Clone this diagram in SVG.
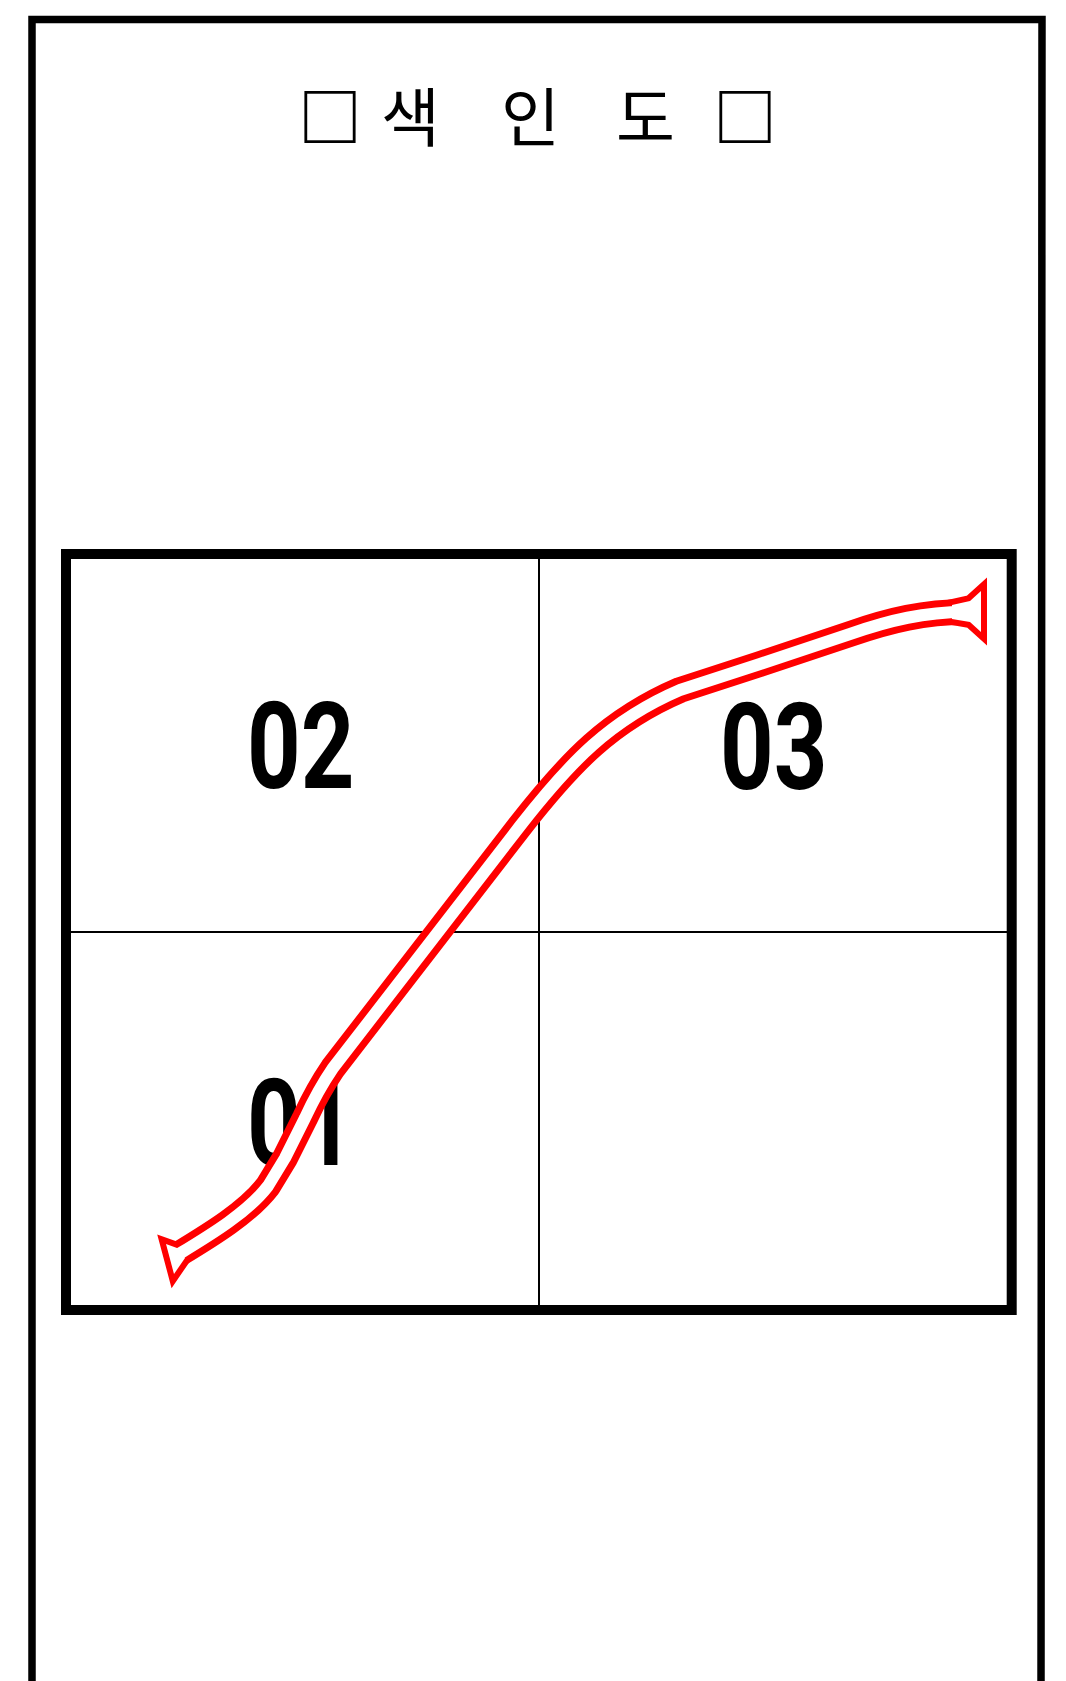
<svg xmlns="http://www.w3.org/2000/svg" width="1066" height="1681" viewBox="0 0 1066 1681">
<style>
.frame{fill:none;stroke:#000;stroke-width:7.5;stroke-linejoin:miter}
.box{fill:none;stroke:#000;stroke-width:10}
.grid{stroke:#000;stroke-width:2}
.title{font-family:"Noto Sans CJK KR","Noto Sans",sans-serif;font-size:64px;fill:#000}
.sq{font-weight:bold}
.num{font-family:Roboto,"Liberation Sans",sans-serif;font-weight:bold;font-size:120px;fill:#000}
.roadOuter{fill:none;stroke:#ff0000;stroke-width:26;stroke-linejoin:round}
.roadInner{fill:none;stroke:#fff;stroke-width:12;stroke-linejoin:round}
.capOuter{fill:#ff0000;stroke:#ff0000;stroke-width:12;stroke-linejoin:miter}
.capInner{fill:#fff;stroke:none}
</style>
<rect width="1066" height="1681" fill="#fff"/>
<g id="frame">
<path class="frame" d="M32,1690 V19.5 H1042 L1041,1690"/>
</g>
<g id="title">
<text class="title" y="141"><tspan class="sq" x="298">□</tspan><tspan x="381">색</tspan> <tspan x="501">인</tspan> <tspan x="616">도</tspan><tspan class="sq" x="713">□</tspan></text>
</g>
<g id="map">
<rect class="box" x="66" y="554" width="945.7" height="756"/>
<line class="grid" x1="539" y1="554" x2="539" y2="1310"/>
<line class="grid" x1="66" y1="932" x2="1011.7" y2="932"/>
</g>
<g id="zone-02"><text class="num" transform="translate(247,788) scale(0.78,1)">02</text></g>
<g id="zone-03"><text class="num" transform="translate(720,789) scale(0.78,1)">03</text></g>
<g id="zone-01"><text class="num" transform="translate(247,1165) scale(0.78,1)">01</text></g>
<g id="connectors">
<defs>
<path id="road" d="M179,1254 C212,1234 248,1212 268,1186 L285,1158 L305,1118 Q318,1090 333,1068 L520,826 C570,762 610,720 680,690 L760,664 L850,634 C890,620 925,612 965,612"/>
<polygon id="capL" points="177,1248 166,1244 174,1274 185,1258"/>
<polygon id="capR" points="952,605 970,601 981,591 981,632 970,622 952,619"/>
</defs>
<use href="#road" class="roadOuter"/>
<use href="#capL" class="capOuter"/>
<use href="#capR" class="capOuter"/>
<use href="#road" class="roadInner"/>
<use href="#capL" class="capInner"/>
<use href="#capR" class="capInner"/>
</g>
</svg>
